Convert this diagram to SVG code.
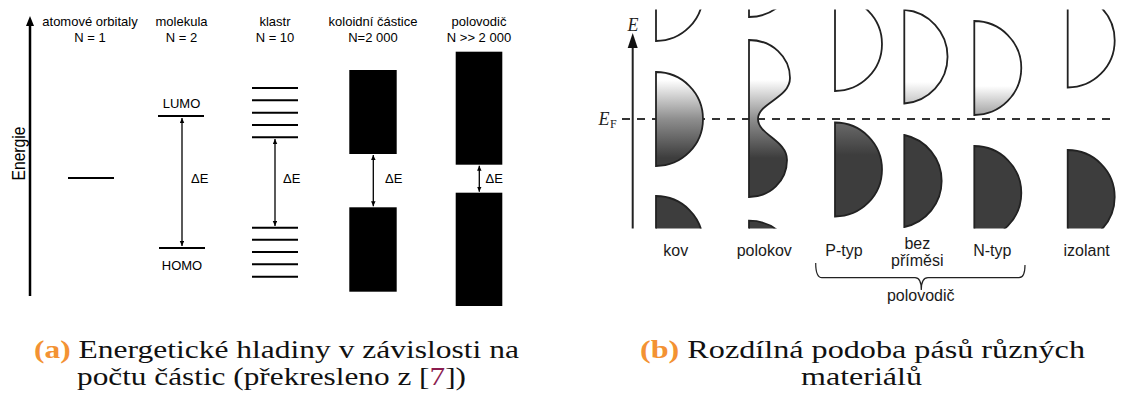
<svg xmlns="http://www.w3.org/2000/svg" width="1121" height="394" viewBox="0 0 1121 394">
<style>
.lbl{font-family:"Liberation Sans",Arial,sans-serif;font-size:13px;fill:#000;text-anchor:middle}
.de{font-family:"Liberation Sans",Arial,sans-serif;font-size:13px;fill:#000}
.lbl2{font-family:"Liberation Sans",Arial,sans-serif;font-size:16px;fill:#1a1a1a;text-anchor:middle}
.lvl{stroke:#000;stroke-width:2;fill:none}
.gap{stroke:#000;stroke-width:1.3;fill:none;marker-start:url(#ah);marker-end:url(#ah)}
.blk{fill:#000}
.band{stroke:#222;stroke-width:1.8}
.cap{font-family:"Liberation Serif","Times New Roman",serif;font-size:25px;fill:#111}
.lab{fill:#f39233;font-weight:bold}
.ser{font-family:"Liberation Serif","Times New Roman",serif;font-style:italic;fill:#222}
</style>
<defs>
<marker id="ah" markerUnits="userSpaceOnUse" markerWidth="6" markerHeight="5" refX="5" refY="2.25" orient="auto-start-reverse">
<path d="M0,0 L5,2.25 L0,4.5 z" fill="#000"/>
</marker>
<clipPath id="bandclip"><rect x="640" y="9.5" width="481" height="219"/></clipPath>
<linearGradient id="gFermi" gradientUnits="userSpaceOnUse" x1="0" y1="80" x2="0" y2="158">
<stop offset="0" stop-color="#ffffff"/><stop offset="0.5" stop-color="#8e8e8e"/><stop offset="1" stop-color="#3d3d3d"/>
</linearGradient>
<linearGradient id="gP" gradientUnits="userSpaceOnUse" x1="0" y1="122" x2="0" y2="155">
<stop offset="0" stop-color="#6a6a6a"/><stop offset="1" stop-color="#3d3d3d"/>
</linearGradient>
<linearGradient id="gBez" gradientUnits="userSpaceOnUse" x1="0" y1="82" x2="0" y2="104">
<stop offset="0" stop-color="#ffffff"/><stop offset="1" stop-color="#c4c4c4"/>
</linearGradient>
<linearGradient id="gN" gradientUnits="userSpaceOnUse" x1="0" y1="86" x2="0" y2="116">
<stop offset="0" stop-color="#ffffff"/><stop offset="1" stop-color="#a0a0a0"/>
</linearGradient>
</defs>
<rect width="1121" height="394" fill="#fff"/>

<!-- ===== Panel (a) ===== -->
<g id="axis-a">
<line x1="30" y1="296" x2="30" y2="24" stroke="#000" stroke-width="2.5"/>
<polygon points="30,16 26,26 34,26" fill="#000"/>
<text class="lbl" style="font-size:18px" transform="translate(25,153.5) rotate(-90)" textLength="54" lengthAdjust="spacingAndGlyphs">Energie</text>
</g>

<g id="atom">
<text class="lbl" x="90" y="26">atomové orbitaly</text>
<text class="lbl" x="90" y="42">N = 1</text>
<line class="lvl" x1="68" y1="178" x2="114" y2="178"/>
</g>

<g id="molekula">
<text class="lbl" x="181.5" y="26">molekula</text>
<text class="lbl" x="181.5" y="42">N = 2</text>
<text class="lbl" x="181.5" y="108">LUMO</text>
<line class="lvl" x1="158" y1="116" x2="204" y2="116"/>
<line class="lvl" x1="159" y1="248" x2="205" y2="248"/>
<text class="lbl" x="182" y="270">HOMO</text>
<text class="de" x="191" y="183">ΔE</text>
</g>

<g id="klastr">
<text class="lbl" x="275" y="26">klastr</text>
<text class="lbl" x="275" y="42">N = 10</text>
<line class="lvl" x1="252" y1="88" x2="298" y2="88"/>
<line class="lvl" x1="252" y1="100.3" x2="298" y2="100.3"/>
<line class="lvl" x1="252" y1="112.7" x2="298" y2="112.7"/>
<line class="lvl" x1="252" y1="125" x2="298" y2="125"/>
<line class="lvl" x1="252" y1="137.3" x2="298" y2="137.3"/>
<line class="lvl" x1="252" y1="227.7" x2="298" y2="227.7"/>
<line class="lvl" x1="252" y1="239.7" x2="298" y2="239.7"/>
<line class="lvl" x1="252" y1="252" x2="298" y2="252"/>
<line class="lvl" x1="252" y1="264.3" x2="298" y2="264.3"/>
<line class="lvl" x1="252" y1="276.7" x2="298" y2="276.7"/>
<text class="de" x="283" y="183">ΔE</text>
</g>

<g id="koloid">
<text class="lbl" x="373" y="26">koloidní částice</text>
<text class="lbl" x="373" y="42">N=2 000</text>
<rect class="blk" x="349.3" y="70" width="47.4" height="84"/>
<rect class="blk" x="349.3" y="207.3" width="47.4" height="84.4"/>
<text class="de" x="385" y="183">ΔE</text>
</g>

<g id="polovodic-a">
<text class="lbl" x="479" y="26">polovodič</text>
<text class="lbl" x="479" y="42">N &gt;&gt; 2 000</text>
<rect class="blk" x="455.7" y="51.7" width="46.6" height="113"/>
<rect class="blk" x="455.7" y="192.7" width="46.6" height="113.3"/>
<text class="de" x="485.5" y="183">ΔE</text>
</g>

<g id="connectors-a">
<line class="gap" x1="182" y1="118" x2="182" y2="246"/>
<line class="gap" x1="275" y1="139" x2="275" y2="226"/>
<line class="gap" x1="373.3" y1="155" x2="373.3" y2="206.3"/>
<line class="gap" x1="479.3" y1="165.7" x2="479.3" y2="191.7"/>
</g>

<!-- ===== Panel (b) ===== -->
<g id="axis-b">
<line x1="622" y1="119" x2="1116" y2="119" stroke="#333" stroke-width="2" stroke-dasharray="8,7"/>
<line x1="632.7" y1="228.5" x2="632.7" y2="46" stroke="#222" stroke-width="2"/>
<polygon points="632.7,33 627.7,48 637.7,48" fill="#111"/>
<text class="ser" x="633" y="30.5" font-size="18" text-anchor="middle">E</text>
<text class="ser" x="598.5" y="125" font-size="18">E</text>
<text x="610" y="127.5" font-family="Liberation Serif,serif" font-size="12" fill="#222">F</text>
</g>

<g clip-path="url(#bandclip)">
<g id="kov">
<path class="band" fill="#ffffff" d="M656,-53 A47,47 0 0 1 656,41 Z"/>
<path class="band" fill="url(#gFermi)" d="M656,72 A47,47 0 0 1 656,166 Z"/>
<path class="band" fill="#3d3d3d" d="M656,196 A47,47 0 0 1 656,290 Z"/>
</g>
<g id="polokov">
<path class="band" fill="#ffffff" d="M749,-77 A47,47 0 0 1 749,17 Z"/>
<path class="band" fill="url(#gFermi)" d="M749,40 C772,40 790,57 790,78 C790,98 758,103 758,119 C758,135 787,140 787,160 C787,181 770,197 749,197 Z"/>
<path class="band" fill="#3d3d3d" d="M749,220.7 A47,47 0 0 1 749,314.7 Z"/>
</g>
<g id="p-typ">
<path class="band" fill="#ffffff" d="M835,-3 A47,47 0 0 1 835,91 Z"/>
<path class="band" fill="url(#gP)" d="M835,122.5 A47,47 0 0 1 835,216.5 Z"/>
</g>
<g id="bez-primesi">
<path class="band" fill="url(#gBez)" d="M904.3,9.8 A47,47 0 0 1 904.3,103.5 Z"/>
<path class="band" fill="#3d3d3d" d="M904.3,135 A47,47 0 0 1 904.3,227 Z"/>
</g>
<g id="n-typ">
<path class="band" fill="url(#gN)" d="M974.3,21 A47,47 0 0 1 974.3,115 Z"/>
<path class="band" fill="#3d3d3d" d="M974.3,146 A47,47 0 0 1 974.3,240 Z"/>
</g>
<g id="izolant">
<path class="band" fill="#ffffff" d="M1067.7,-6.5 A47,47 0 0 1 1067.7,87.5 Z"/>
<path class="band" fill="#3d3d3d" d="M1067.7,150 A47,47 0 0 1 1067.7,244 Z"/>
</g>
</g>

<g id="labels-b">
<text class="lbl2" x="675.7" y="256">kov</text>
<text class="lbl2" x="764.3" y="256">polokov</text>
<text class="lbl2" x="844" y="256">P-typ</text>
<text class="lbl2" x="917.3" y="249">bez</text>
<text class="lbl2" x="917.3" y="266">příměsi</text>
<text class="lbl2" x="992.3" y="256">N-typ</text>
<text class="lbl2" x="1086.7" y="256">izolant</text>
<path d="M815.7,263 Q815.7,277.7 822,277.7 L915,277.7 Q921.3,277.7 921.3,290 Q921.3,277.7 928,277.7 L1019,277.7 Q1025,277.7 1025,265" fill="none" stroke="#222" stroke-width="1.2"/>
<text class="lbl2" x="920.7" y="301">polovodič</text>
</g>

<g id="caption-a">
<text class="cap" x="34" y="358" textLength="485" lengthAdjust="spacingAndGlyphs"><tspan class="lab">(a)</tspan> Energetické hladiny v závislosti na</text>
<text class="cap" x="77" y="385" textLength="389" lengthAdjust="spacingAndGlyphs">počtu částic (překresleno z [<tspan fill="#8b1c4f">7</tspan>])</text>
</g>
<g id="caption-b">
<text class="cap" x="640" y="358" textLength="445" lengthAdjust="spacingAndGlyphs"><tspan class="lab">(b)</tspan> Rozdílná podoba pásů různých</text>
<text class="cap" x="801" y="385" textLength="121" lengthAdjust="spacingAndGlyphs">materiálů</text>
</g>
</svg>
